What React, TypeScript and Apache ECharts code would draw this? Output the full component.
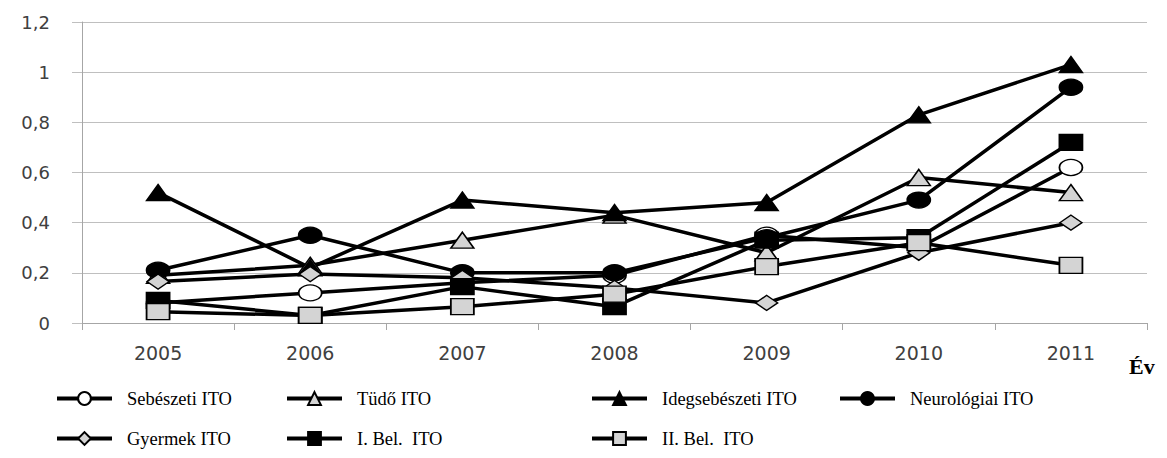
import React, { useEffect, useRef } from "react";
import * as echarts from "echarts";

const years = ["2005", "2006", "2007", "2008", "2009", "2010", "2011"];

const sebeszeti = [0.08, 0.12, 0.16, 0.19, 0.35, 0.30, 0.62];
const tudo = [0.19, 0.23, 0.33, 0.43, 0.28, 0.58, 0.52];
const idegsebeszeti = [0.52, 0.22, 0.49, 0.44, 0.48, 0.83, 1.03];
const neurologiai = [0.21, 0.35, 0.20, 0.20, 0.34, 0.49, 0.94];
const gyermek = [0.165, 0.195, 0.18, 0.14, 0.08, 0.28, 0.40];
const iBel = [0.09, 0.03, 0.145, 0.065, 0.33, 0.34, 0.72];
const iiBel = [0.045, 0.03, 0.065, 0.115, 0.225, 0.32, 0.23];

const seriesDefs = [
  { name: "Sebészeti ITO", data: sebeszeti, symbol: "circle", fill: "#ffffff", lx: 55, ly: 389, row: 1 },
  { name: "Tüdő ITO", data: tudo, symbol: "triangle", fill: "#d4d4d4", lx: 285, ly: 389, row: 1 },
  { name: "Idegsebészeti ITO", data: idegsebeszeti, symbol: "triangle", fill: "#000000", lx: 590, ly: 389, row: 1 },
  { name: "Neurológiai ITO", data: neurologiai, symbol: "circle", fill: "#000000", lx: 838, ly: 389, row: 1 },
  { name: "Gyermek ITO", data: gyermek, symbol: "diamond", fill: "#d4d4d4", lx: 55, ly: 429, row: 2 },
  { name: "I. Bel.  ITO", data: iBel, symbol: "rect", fill: "#000000", lx: 285, ly: 429, row: 2 },
  { name: "II. Bel.  ITO", data: iiBel, symbol: "rect", fill: "#d4d4d4", lx: 590, ly: 429, row: 2 },
];

export default function App() {
  const ref = useRef<HTMLDivElement>(null);
  useEffect(() => {
    if (!ref.current) return;
    const chart = echarts.init(ref.current, null, { renderer: "svg" });
    const option: any = {
      animation: false,
      backgroundColor: "#ffffff",
      title: {
        text: "Év",
        left: 1129,
        top: 355,
        padding: 0,
        textStyle: { fontFamily: "Liberation Serif", fontWeight: "bold", fontSize: 22, color: "#000" },
      },
      grid: { left: 82, right: 20, top: 22, bottom: 135, containLabel: false },
      legend: seriesDefs.map((s) => ({
        data: [s.name],
        left: s.lx,
        top: s.ly,
        padding: 0,
        itemWidth: 55,
        itemHeight: 16,
        selectedMode: false,
        lineStyle: { width: 4 },
        textStyle: {
          fontFamily: "Liberation Serif",
          fontSize: 18.5,
          fontWeight: "normal",
          color: "#000",
          padding: s.row === 2 ? [8, 0, 0, 10] : [0, 0, 0, 10],
        },
      })),
      xAxis: {
        type: "category",
        data: years,
        boundaryGap: true,
        axisLine: { show: true, lineStyle: { color: "#a6a6a6", width: 1 } },
        axisTick: { show: true, length: 7, lineStyle: { color: "#a6a6a6" } },
        axisLabel: { margin: 20, fontSize: 19, color: "#404040", fontFamily: "DejaVu Sans" },
        splitLine: { show: false },
      },
      yAxis: {
        type: "value",
        min: 0,
        max: 1.2,
        interval: 0.2,
        axisLine: { show: true, lineStyle: { color: "#a6a6a6", width: 1 } },
        axisTick: { show: true, length: 10, lineStyle: { color: "#bfbfbf" } },
        axisLabel: {
          margin: 32,
          fontSize: 18,
          color: "#404040",
          fontFamily: "DejaVu Sans",
          formatter: (v: number) => String(+v.toFixed(1)).replace(".", ","),
        },
        splitLine: { show: true, lineStyle: { color: "#bfbfbf", width: 1 } },
      },
      series: seriesDefs.map((s) => ({
        name: s.name,
        type: "line",
        data: s.data,
        symbol: s.symbol,
        symbolSize: s.symbol === "diamond" ? [22, 15] : [23, 16],
        showAllSymbol: true,
        lineStyle: { color: "#000000", width: 3.5 },
        itemStyle: { color: s.fill, borderColor: "#000000", borderWidth: 1.5 },
        emphasis: { disabled: true },
      })),
    };
    chart.setOption(option);
    return () => chart.dispose();
  }, []);
  return (
    <div
      ref={ref}
      style={{ position: "fixed", left: 0, top: 0, width: 1167, height: 458 }}
    />
  );
}
